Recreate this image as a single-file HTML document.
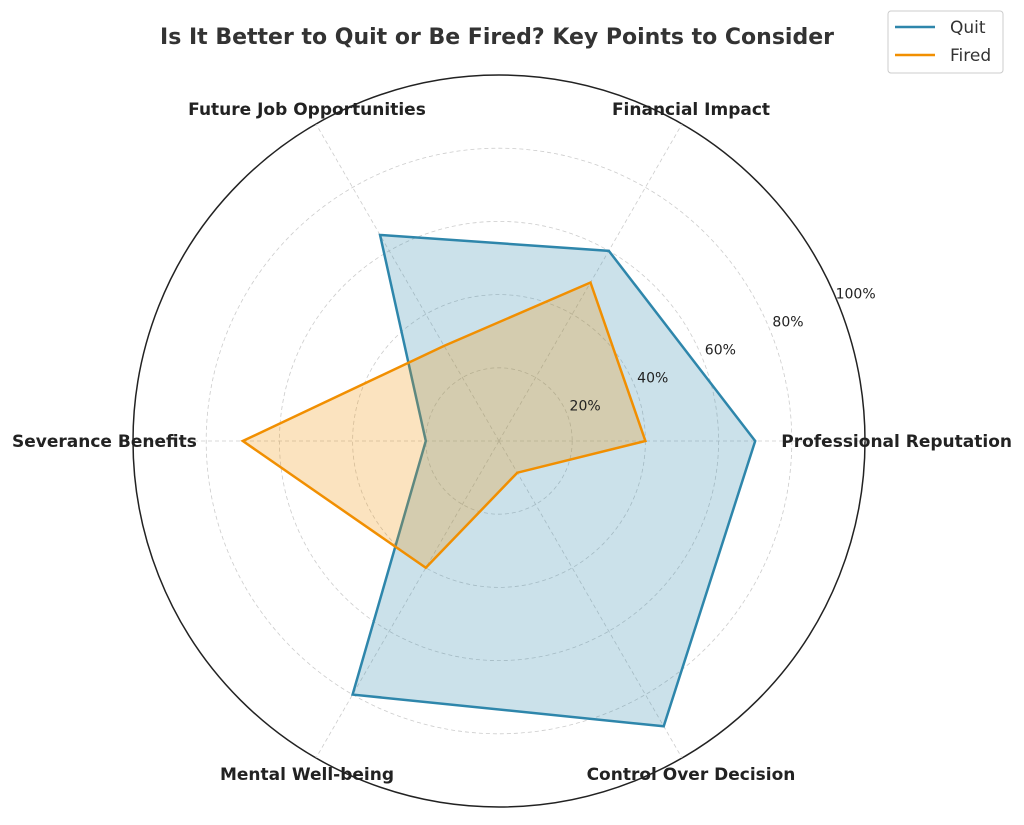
<!DOCTYPE html>
<html><head><meta charset="utf-8"><style>
body{margin:0;background:#fff;font-family:"DejaVu Sans","Liberation Sans",sans-serif}
</style></head><body>
<svg id="chart" width="1024" height="821" viewBox="0 0 1024 821">
<text x="497" y="44" text-anchor="middle" font-size="22" font-weight="bold" fill="#333">Is It Better to Quit or Be Fired? Key Points to Consider</text>
<g id="grid"></g><g id="series"></g><g id="labels"></g>
<g>
<rect x="888" y="11" width="115" height="62" rx="3" fill="#fff" stroke="#ccc"/>
<line x1="895" y1="27" x2="935" y2="27" stroke="#2e86ab" stroke-width="2.5"/>
<text x="950" y="33" font-size="17" fill="#333">Quit</text>
<line x1="895" y1="55" x2="935" y2="55" stroke="#f18f01" stroke-width="2.5"/>
<text x="950" y="61" font-size="17" fill="#333">Fired</text>
</g>
</svg>
<script>
const categories=["Professional Reputation","Financial Impact","Future Job Opportunities","Severance Benefits","Mental Well-being","Control Over Decision"];
const quitValues=[70,60,65,20,80,90];
const firedValues=[40,50,30,70,40,10];
const ringTicks=[20,40,60,80,100];
const tickLabels=["20%","40%","60%","80%","100%"];
const NS="http://www.w3.org/2000/svg";
const cx=499,cy=441,R=366;
function rad(v){return v/100*R;}
function ang(i){return i*Math.PI*2/categories.length;}
function pt(i,v){const a=ang(i);return [cx+rad(v)*Math.cos(a),cy-rad(v)*Math.sin(a)];}
function mk(t,at,parent){const e=document.createElementNS(NS,t);for(const k in at)e.setAttribute(k,at[k]);parent.appendChild(e);return e;}
const grid=document.getElementById('grid'),ser=document.getElementById('series'),lab=document.getElementById('labels');
ringTicks.forEach((t,j)=>{
 const c=mk('circle',{cx:cx,cy:cy,r:rad(t),fill:'none',stroke:t===100?'#222':'#ccc','stroke-width':t===100?1.5:0.8,'stroke-dasharray':t===100?'none':'4 3'},grid);
 
 
 const a=22.5*Math.PI/180,r=rad(t)+20;
 const tx=mk('text',{x:cx+r*Math.cos(a),y:cy-r*Math.sin(a)+5,'text-anchor':'middle','font-size':'14',fill:'#222'},lab);
 tx.textContent=tickLabels[j];
 
 
});
categories.forEach((c,i)=>{
 const p=pt(i,100);
 const l=mk('line',{x1:cx,y1:cy,x2:p[0],y2:p[1],stroke:'#ccc','stroke-width':0.8,'stroke-dasharray':'4 3'},grid);
 
 
 const q=pt(i,100);const a=ang(i);
 let x=cx+(R+0)*Math.cos(a),y=cy-(R+0)*Math.sin(a);
 let anchor='middle';
 if(i===0){x=1012;anchor='end';y=cy+6;}
 else if(i===3){x=12;anchor='start';y=cy+6;}
 else if(i===1){x=691;y=115;}
 else if(i===2){x=307;y=115;}
 else if(i===4){x=307;y=780;}
 else {x=691;y=780;}
 const t=mk('text',{x:x,y:y,'text-anchor':anchor,'font-size':'17','font-weight':'bold',fill:'#222'},lab);
 t.textContent=c;
 
 
});
function poly(vals,col,fill,op,name){
 const pts=vals.map((v,i)=>pt(i,v).join(',')).join(' ');
 const p=mk('polygon',{points:pts,fill:fill,'fill-opacity':op,stroke:col,'stroke-width':2.5,'stroke-linejoin':'miter'},ser);
 
 
}
poly(quitValues,'#2e86ab','#2e86ab',0.25,'series-quit');
poly(firedValues,'#f18f01','#f18f01',0.25,'series-fired');
</script>
</body></html>
